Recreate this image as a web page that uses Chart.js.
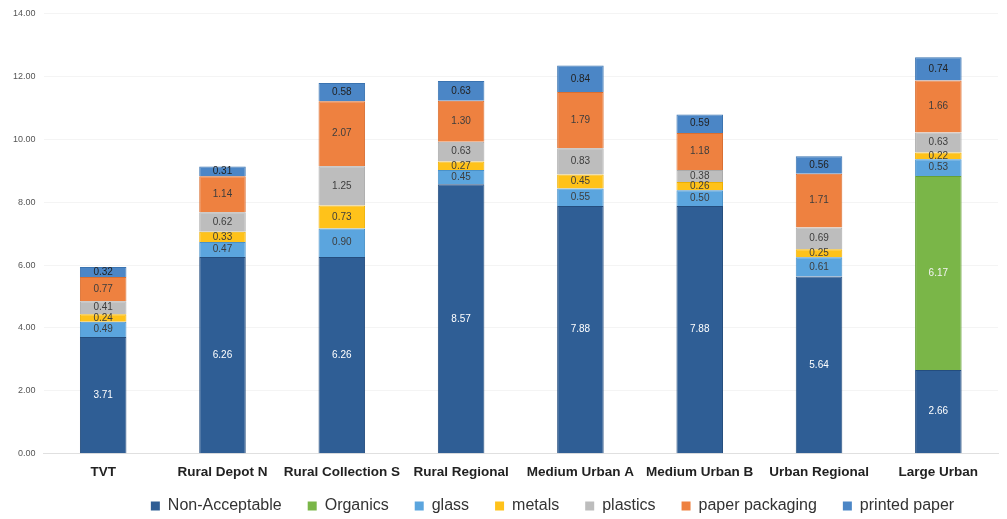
<!DOCTYPE html>
<html>
<head>
<meta charset="utf-8">
<script src="https://cdn.jsdelivr.net/npm/chart.js@4/dist/chart.umd.min.js"></script>
<style>
  html, body { margin: 0; padding: 0; background: #fff; }
  #wrap { width: 1007px; height: 519px; }
</style>
</head>
<body>
<div id="wrap"><canvas id="chart"></canvas></div>
<script>
const categories = ['TVT', 'Rural Depot N', 'Rural Collection S', 'Rural Regional', 'Medium Urban A', 'Medium Urban B', 'Urban Regional', 'Large Urban'];

const nonAcceptable  = [3.71, 6.26, 6.26, 8.57, 7.88, 7.88, 5.64, 2.66];
const organics       = [0, 0, 0, 0, 0, 0, 0, 6.17];
const glass          = [0.49, 0.47, 0.90, 0.45, 0.55, 0.50, 0.61, 0.53];
const metals         = [0.24, 0.33, 0.73, 0.27, 0.45, 0.26, 0.25, 0.22];
const plastics       = [0.41, 0.62, 1.25, 0.63, 0.83, 0.38, 0.69, 0.63];
const paperPackaging = [0.77, 1.14, 2.07, 1.30, 1.79, 1.18, 1.71, 1.66];
const printedPaper   = [0.32, 0.31, 0.58, 0.63, 0.84, 0.59, 0.56, 0.74];

const yTicks = [0, 2, 4, 6, 8, 10, 12, 14];

// labels inside each segment
const segmentLabels = {
    id: 'segmentLabels',
    afterDatasetsDraw(chart) {
        const ctx = chart.ctx;
        ctx.save();
        ctx.font = '10px "Liberation Sans", Arial, sans-serif';
        ctx.textAlign = 'center';
        ctx.textBaseline = 'middle';
        chart.data.datasets.forEach((ds, i) => {
            const meta = chart.getDatasetMeta(i);
            meta.data.forEach((bar, j) => {
                const v = ds.data[j];
                if (!v) return;
                ctx.fillStyle = ds.labelColor;
                ctx.fillText(v.toFixed(2), bar.x, (bar.y + bar.base) / 2);
            });
        });
        ctx.restore();
    }
};

// legend: wide gaps between items but a compact box at the bottom
const legendFit = {
    id: 'legendFit',
    beforeInit(chart) {
        const fit = chart.legend.fit;
        chart.legend.fit = function () {
            fit.call(this);
            this.height = 29;
        };
    },
    afterLayout(chart) {
        const lg = chart.legend;
        lg.top -= 18;
        lg.height += 18;
        lg.left += 51;
        lg.right += 51;
    }
};

const ctx = document.getElementById('chart').getContext('2d');
new Chart(ctx, {
    type: 'bar',
    data: {
        labels: categories,
        datasets: [
            { label: 'Non-Acceptable', data: nonAcceptable, backgroundColor: '#2f5e95', borderColor: '#244d7e', labelColor: '#ffffff' },
            { label: 'Organics', data: organics, backgroundColor: '#7ab648', borderColor: '#64a038', labelColor: '#f4f4f4' },
            { label: 'glass', data: glass, backgroundColor: '#5ba5de', borderColor: '#4a91c8', labelColor: '#3d3d3d' },
            { label: 'metals', data: metals, backgroundColor: '#ffc21a', borderColor: '#eeb000', labelColor: '#3d3d3d' },
            { label: 'plastics', data: plastics, backgroundColor: '#bdbdbd', borderColor: '#aaaaaa', labelColor: '#3d3d3d' },
            { label: 'paper packaging', data: paperPackaging, backgroundColor: '#ee8140', borderColor: '#d96e30', labelColor: '#3d3d3d' },
            { label: 'printed paper', data: printedPaper, backgroundColor: '#4b86c6', borderColor: '#3a73b0', labelColor: '#222222' }
        ].map(d => Object.assign(d, { borderWidth: 1, categoryPercentage: 1, barPercentage: 0.39 }))
    },
    options: {
        responsive: true,
        maintainAspectRatio: false,
        animation: false,
        layout: { padding: { left: 5, right: 9, top: 2, bottom: 0 } },
        plugins: {
            tooltip: { enabled: false },
            legend: {
                position: 'bottom',
                labels: {
                    boxWidth: 9,
                    boxHeight: 9,
                    padding: 26,
                    color: '#333',
                    font: { size: 16, family: '"Liberation Sans", Arial, sans-serif' },
                    generateLabels(chart) {
                        const items = Chart.defaults.plugins.legend.labels.generateLabels(chart);
                        items.forEach(it => { it.lineWidth = 0; });
                        return items;
                    }
                }
            }
        },
        scales: {
            x: {
                stacked: true,
                grid: { display: false, drawTicks: false },
                border: { color: '#e0e0e0' },
                ticks: {
                    color: '#222',
                    padding: 10,
                    maxRotation: 0,
                    minRotation: 0,
                    autoSkip: false,
                    font: { size: 13.5, weight: 'bold', family: '"Liberation Sans", Arial, sans-serif' }
                }
            },
            y: {
                stacked: true,
                min: 0,
                max: 14,
                afterBuildTicks(axis) { axis.ticks = yTicks.map(v => ({ value: v })); },
                grid: { color: '#f4f4f4', drawTicks: false },
                border: { display: false },
                ticks: {
                    color: '#555',
                    padding: 8,
                    font: { size: 9, family: '"Liberation Sans", Arial, sans-serif' },
                    callback: v => Number(v).toFixed(2)
                }
            }
        }
    },
    plugins: [segmentLabels, legendFit]
});
</script>
</body>
</html>
